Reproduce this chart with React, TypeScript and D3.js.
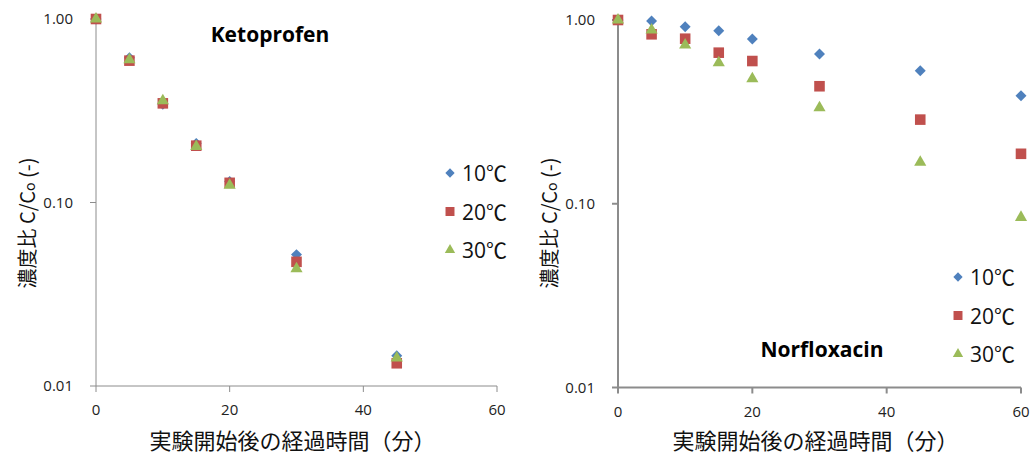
import React from "react";
import * as d3 from "d3";

// Sampling times (minutes)
const TIMES_KETO = [0, 5, 10, 15, 20, 30, 45];
const TIMES_NOR = [0, 5, 10, 15, 20, 30, 45, 60];

// Ketoprofen C/C0 at 10, 20, 30 °C
const KETO_10C = [1.0, 0.615, 0.343, 0.21, 0.13, 0.052, 0.0146];
const KETO_20C = [1.0, 0.593, 0.347, 0.204, 0.128, 0.0475, 0.0133];
const KETO_30C = [1.0, 0.6, 0.358, 0.202, 0.124, 0.0435, 0.0142];

// Norfloxacin C/C0 at 10, 20, 30 °C
const NOR_10C = [1.0, 0.988, 0.92, 0.875, 0.788, 0.653, 0.53, 0.387];
const NOR_20C = [1.0, 0.836, 0.791, 0.664, 0.598, 0.436, 0.287, 0.187];
const NOR_30C = [1.0, 0.882, 0.731, 0.586, 0.479, 0.333, 0.168, 0.0843];

const X_TICKS = [0, 20, 40, 60];
const Y_TICKS = [1, 0.1, 0.01];
const Y_TICK_LABELS = ["1.00", "0.10", "0.01"];
const SERIES_LABELS = ["10℃", "20℃", "30℃"];
const SERIES_COLORS = ["#4F81BD", "#C0504D", "#9BBB59"];

const X_TITLE = "実験開始後の経過時間（分）";

const SANS = "'Open Sans', 'Noto Sans CJK JP', sans-serif";
const CJK = "'Noto Sans CJK JP', sans-serif";

type Panel = {
  name: string;
  times: number[];
  series: number[][];
  xRange: [number, number];
  yRange: [number, number];
  axisColor: string;
  axisWidth: number;
  title: { x: number; y: number };
  legend: { x: number; y: number };
  yTitle: { x: number; y: number };
};

const panels: Panel[] = [
  {
    name: "Ketoprofen",
    times: TIMES_KETO,
    series: [KETO_10C, KETO_20C, KETO_30C],
    xRange: [96, 497],
    yRange: [386, 19],
    axisColor: "#8c8c8c",
    axisWidth: 1,
    title: { x: 270, y: 42 },
    legend: { x: 450, y: 173 },
    yTitle: { x: 26, y: 223 },
  },
  {
    name: "Norfloxacin",
    times: TIMES_NOR,
    series: [NOR_10C, NOR_20C, NOR_30C],
    xRange: [618, 1021],
    yRange: [387.5, 20],
    axisColor: "#8c8c8c",
    axisWidth: 2,
    title: { x: 822, y: 357 },
    legend: { x: 958, y: 277 },
    yTitle: { x: 548, y: 223 },
  },
];

function markerPath(i: number, scale: number): { d: string; rotate: number } {
  if (i === 0) {
    return { d: d3.symbol(d3.symbolSquare, 60 * scale)() as string, rotate: 45 };
  }
  if (i === 1) {
    return { d: d3.symbol(d3.symbolSquare, 112 * scale)() as string, rotate: 0 };
  }
  return { d: d3.symbol(d3.symbolTriangle, 64 * scale)() as string, rotate: 0 };
}

function PanelChart({ p }: { p: Panel }) {
  const x = d3.scaleLinear().domain([0, 60]).range(p.xRange);
  const y = d3.scaleLog().domain([0.01, 1]).range(p.yRange);
  const [x0, x1] = p.xRange;
  const [yb, yt] = p.yRange;

  return (
    <g>
      {/* axes */}
      <line x1={x0} x2={x0} y1={yt} y2={yb} stroke={p.axisColor} strokeWidth={p.axisWidth} />
      <line x1={x0} x2={x1} y1={yb} y2={yb} stroke={p.axisColor} strokeWidth={p.axisWidth} />
      {Y_TICKS.map((t, i) => (
        <g key={"yt" + i}>
          <line x1={x0 - 6} x2={x0} y1={y(t)} y2={y(t)} stroke={p.axisColor} strokeWidth={p.axisWidth} />
          <text
            x={x0 - 23}
            y={y(t) + 5}
            textAnchor="end"
            fontFamily={SANS}
            fontSize={15}
            fill="#222"
          >
            {Y_TICK_LABELS[i]}
          </text>
        </g>
      ))}
      {X_TICKS.map((t, i) => (
        <g key={"xt" + i}>
          <line x1={x(t)} x2={x(t)} y1={yb} y2={yb + 6} stroke={p.axisColor} strokeWidth={p.axisWidth} />
          <text x={x(t)} y={yb + 29} textAnchor="middle" fontFamily={SANS} fontSize={15} fill="#222">
            {t}
          </text>
        </g>
      ))}

      {/* axis titles */}
      <text
        x={(x0 + x1) / 2 - 4}
        y={449}
        textAnchor="middle"
        fontFamily={CJK}
        fontSize={22}
        fill="#111"
      >
        {X_TITLE}
      </text>
      <text
        transform={`translate(${p.yTitle.x},${p.yTitle.y}) rotate(-90)`}
        textAnchor="middle"
        dominantBaseline="central"
        fontFamily={CJK}
        fontSize={20}
        fill="#111"
      >
        濃度比 C/C<tspan fontSize={14} dy={3}>o</tspan>
        <tspan dy={-3}> (-)</tspan>
      </text>

      {/* chart title */}
      <text
        x={p.title.x}
        y={p.title.y}
        textAnchor="middle"
        fontFamily={SANS}
        fontWeight="bold"
        fontSize={21}
        fill="#000"
      >
        {p.name}
      </text>

      {/* data markers */}
      {p.series.map((vals, si) => {
        const m = markerPath(si, 1);
        return (
          <g key={"s" + si} fill={SERIES_COLORS[si]}>
            {vals.map((v, k) => (
              <path
                key={k}
                d={m.d}
                transform={`translate(${x(p.times[k])},${y(v)}) rotate(${m.rotate})`}
              />
            ))}
          </g>
        );
      })}

      {/* legend */}
      {SERIES_LABELS.map((lab, si) => {
        const m = markerPath(si, 0.72);
        const ly = p.legend.y + si * 38.5;
        return (
          <g key={"lg" + si}>
            <path
              d={m.d}
              fill={SERIES_COLORS[si]}
              transform={`translate(${p.legend.x},${ly}) rotate(${m.rotate})`}
            />
            <text x={p.legend.x + 12} y={ly + 8} fontFamily={SANS} fontSize={21} fill="#111">
              {lab}
            </text>
          </g>
        );
      })}
    </g>
  );
}

export default function App() {
  return (
    <svg
      width={1034}
      height={458}
      style={{ position: "absolute", left: 0, top: 0, background: "#fff" }}
    >
      <rect width={1034} height={458} fill="#fff" />
      {panels.map((p) => (
        <PanelChart key={p.name} p={p} />
      ))}
    </svg>
  );
}
